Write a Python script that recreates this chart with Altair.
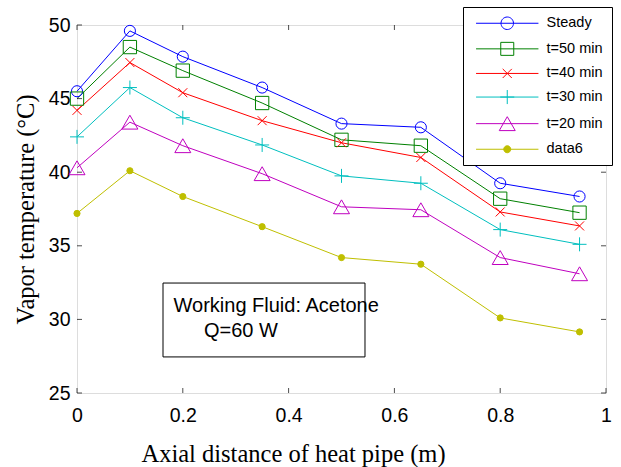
import altair as alt
import pandas as pd

# ---------------- data ----------------
positions = [0, 0.1, 0.2, 0.35, 0.5, 0.65, 0.8, 0.95]
series_names = ["Steady", "t=50 min", "t=40 min", "t=30 min", "t=20 min", "data6"]
steady = [45.5, 49.6, 47.85, 45.75, 43.3, 43.05, 39.25, 38.35]
t50 = [45.0, 48.5, 46.9, 44.7, 42.2, 41.8, 38.2, 37.25]
t40 = [44.2, 47.45, 45.4, 43.5, 42.0, 41.0, 37.3, 36.35]
t30 = [42.4, 45.75, 43.7, 41.85, 39.75, 39.25, 36.1, 35.1]
t20 = [40.3, 43.4, 41.8, 39.9, 37.65, 37.45, 34.2, 33.1]
data6 = [37.2, 40.1, 38.35, 36.3, 34.2, 33.75, 30.1, 29.15]
x_ticks = [0, 0.2, 0.4, 0.6, 0.8, 1]
y_ticks = [25, 30, 35, 40, 45, 50]
note_lines = ["Working Fluid: Acetone", "Q=60 W"]

# ---------------- styles ----------------
colors = ["#0000FF", "#008000", "#FF0000", "#00BFBF", "#BF00BF", "#BFBF00"]
fills = ["transparent"] * 5 + ["#BFBF00"]
shapes = ["circle", "square", "M-1,-1L1,1M-1,1L1,-1", "M-1,0H1M0,-1V1", "triangle-up", "circle"]
sizes = [123, 177, 81, 196, 256, 38]
stub = "M-4.8,0H4.8"
legend_shapes = [
    stub + "M-0.96,0A0.96,0.96 0 1,0 0.96,0A0.96,0.96 0 1,0 -0.96,0Z",
    stub + "M-1,-1H1V1H-1Z",
    stub + "M-0.7,-0.7L0.7,0.7M-0.7,0.7L0.7,-0.7",
    stub + "M-1.08,0H1.08M0,-1.08V1.08",
    stub + "M0,-1.07L-1.23,1.07L1.23,1.07Z",
    stub + "M-0.54,0A0.54,0.54 0 1,0 0.54,0A0.54,0.54 0 1,0 -0.54,0Z",
]
SANS = "Liberation Sans"
SERIF = "Liberation Serif"

# annotation box (data coordinates)
box_x, box_x2, box_y, box_y2 = 0.1626, 0.5444, 27.45, 32.47
note_x = [0.1825, 0.240]
note_y = [30.5, 28.8]

rows = []
for name, vals in zip(series_names, [steady, t50, t40, t30, t20, data6]):
    for p, v in zip(positions, vals):
        rows.append({"series": name, "x": p, "y": v})
df = pd.DataFrame(rows)

xscale = alt.Scale(domain=[0, 1], nice=False, zero=False)
yscale = alt.Scale(domain=[25, 50], nice=False, zero=False)

X = alt.X("x:Q", scale=xscale,
          axis=alt.Axis(values=x_ticks, format="~g", ticks=False, domain=False, grid=False,
                        labelFlush=False,
                        labelFont=SANS, labelFontSize=19.5, labelColor="black", labelPadding=13,
                        title="Axial distance of heat pipe (m)", titleFont=SERIF, titleFontSize=24.5,
                        titleFontWeight="normal", titleColor="black",
                        titleX=216, titleY=68, titleBaseline="alphabetic", titleAlign="center"))
Y = alt.Y("y:Q", scale=yscale,
          axis=alt.Axis(values=y_ticks, ticks=False, domain=False, grid=False,
                        labelFlush=False,
                        labelFont=SANS, labelFontSize=19.5, labelColor="black", labelPadding=7,
                        title="Vapor temperature (°C)", titleFont=SERIF, titleFontSize=24.5,
                        titleFontWeight="normal", titleColor="black",
                        titleX=-44, titleBaseline="alphabetic"))

dom = series_names

lines = alt.Chart(df).mark_line(strokeWidth=1).encode(
    x=X, y=Y,
    stroke=alt.Stroke("series:N", scale=alt.Scale(domain=dom, range=colors), legend=None),
    detail="series:N",
)

points = alt.Chart(df).mark_point(strokeWidth=1, opacity=1).encode(
    x=alt.X("x:Q", scale=xscale),
    y=alt.Y("y:Q", scale=yscale),
    stroke=alt.Stroke("series:N", scale=alt.Scale(domain=dom, range=colors), legend=None),
    fill=alt.Fill("series:N", scale=alt.Scale(domain=dom, range=fills), legend=None),
    shape=alt.Shape("series:N", scale=alt.Scale(domain=dom, range=shapes), legend=None),
    size=alt.Size("series:N", scale=alt.Scale(type="ordinal", domain=dom, range=sizes), legend=None),
)

leg = alt.Legend(title=None, orient="none", legendX=386, legendY=-18,
                 fillColor="white", strokeColor="black", padding=9,
                 labelFont=SANS, labelFontSize=14.5, labelColor="black", labelLimit=300,
                 symbolSize=169, symbolStrokeWidth=1, symbolOpacity=1,
                 symbolOffset=28, labelOffset=32, rowPadding=7.6)

legend_layer = alt.Chart(df).mark_point(opacity=0, strokeWidth=1).encode(
    x=alt.X("x:Q", scale=xscale),
    y=alt.Y("y:Q", scale=yscale),
    stroke=alt.Stroke("series:N", scale=alt.Scale(domain=dom, range=colors), legend=leg),
    fill=alt.Fill("series:N", scale=alt.Scale(domain=dom, range=fills), legend=leg),
    shape=alt.Shape("series:N", scale=alt.Scale(domain=dom, range=legend_shapes), legend=leg),
)

# inside ticks
xt = pd.DataFrame({"v": x_ticks})
yt = pd.DataFrame({"v": y_ticks})
tick_bottom = alt.Chart(xt).mark_tick(orient="vertical", size=5, thickness=1, color="black", yOffset=-2.5).encode(
    x=alt.X("v:Q", scale=xscale), y=alt.datum(25))
tick_top = alt.Chart(xt).mark_tick(orient="vertical", size=5, thickness=1, color="black", yOffset=2.5).encode(
    x=alt.X("v:Q", scale=xscale), y=alt.datum(50))
tick_left = alt.Chart(yt).mark_tick(orient="horizontal", size=5, thickness=1, color="black", xOffset=2.5).encode(
    y=alt.Y("v:Q", scale=yscale), x=alt.datum(0))
tick_right = alt.Chart(yt).mark_tick(orient="horizontal", size=5, thickness=1, color="black", xOffset=-2.5).encode(
    y=alt.Y("v:Q", scale=yscale), x=alt.datum(1))

note_box = alt.Chart(pd.DataFrame({"x": [box_x], "x2": [box_x2], "y": [box_y], "y2": [box_y2]})).mark_rect(
    fill="white", stroke="black", strokeWidth=1).encode(
    x=alt.X("x:Q", scale=xscale), x2="x2:Q", y=alt.Y("y:Q", scale=yscale), y2="y2:Q")
note_text = alt.Chart(pd.DataFrame({"t": note_lines, "x": note_x, "y": note_y})).mark_text(
    align="left", baseline="alphabetic", font=SANS, fontSize=20, color="black").encode(
    x=alt.X("x:Q", scale=xscale), y=alt.Y("y:Q", scale=yscale), text="t:N")

chart = alt.layer(
    note_box, note_text, lines, points, legend_layer,
    tick_bottom, tick_top, tick_left, tick_right,
).resolve_scale(
    stroke="independent", fill="independent", shape="independent", size="independent"
).resolve_legend(
    stroke="independent", fill="independent", shape="independent", size="independent"
).properties(
    width=529, height=368,
    autosize=alt.AutoSizeParams(type="none"),
    padding={"left": 77, "top": 25, "right": 15, "bottom": 74},
).configure_view(
    stroke="black", strokeWidth=1.5
).configure(background="white")

chart.save("out.html", embed_options={"renderer": "svg", "actions": False})
